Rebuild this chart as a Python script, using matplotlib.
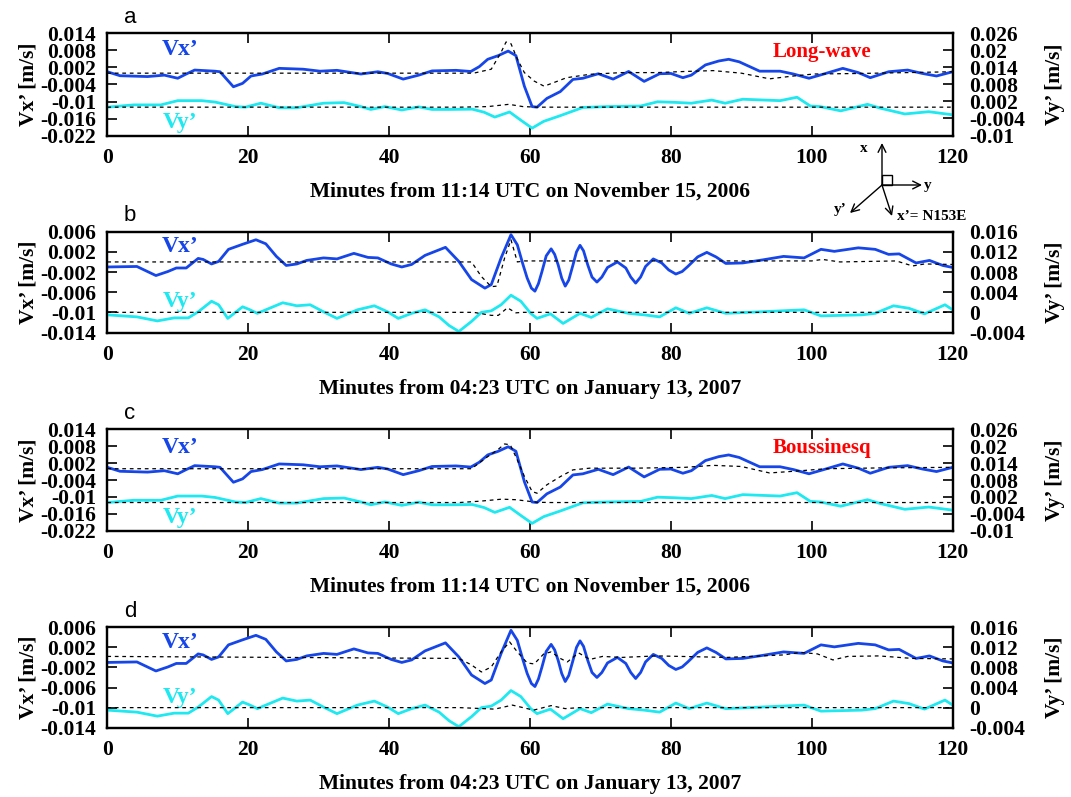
import numpy as np
import matplotlib
matplotlib.use("Agg")
import matplotlib.pyplot as plt
from matplotlib.patches import Rectangle, FancyArrowPatch

plt.rcParams['font.family'] = ['Liberation Serif', 'DejaVu Serif']
plt.rcParams['font.weight'] = 'bold'
plt.rcParams['axes.labelweight'] = 'bold'
plt.rcParams['axes.unicode_minus'] = False

BLUE = '#1646e8'
CYAN = '#1ee8f0'

# ---- observed, event 1 (Nov 15, 2006), values in 1e-3 m/s ----
t1x = [0, 1.8, 5.7, 8.1, 10, 11.2, 12.4, 15.3, 16, 17.9, 19.2, 20.4, 22, 24.4, 27.8, 30.2,
       32.6, 36, 38.4, 39.8, 42, 44.2, 46.1, 49.5, 51.6, 52.8, 54, 55.5, 56.9, 58, 59.2, 60.3,
       61, 62.4, 64.3, 66.1, 67.5, 69.7, 71.8, 74, 76.2, 78.4, 80, 81.7, 82.9, 84.9, 86.8,
       88.2, 89.7, 92.6, 95.5, 97.4, 99.6, 101.7, 104.4, 106.6, 108.3, 110.9, 113.6, 115.7,
       117.7, 120]
v1x = [0.5, -0.9, -1.2, -0.7, -1.8, -0.3, 1.1, 0.7, 0.5, -4.8, -3.6, -1.0, -0.3, 1.7, 1.4, 0.7,
       1.0, -0.3, 0.5, -0.1, -2.1, -0.7, 0.8, 1.0, 0.6, 2.3, 4.9, 6.2, 7.8, 6.2, -4.6, -11.8,
       -12.0, -8.9, -6.5, -2.2, -1.8, -0.2, -2.1, 0.6, -2.9, -0.2, -0.1, -1.6, -0.7, 2.9, 4.3,
       4.9, 4.0, 0.7, 0.7, -0.3, -1.8, -0.3, 1.7, 0.2, -1.6, 0.5, 1.1, -0.1,
       -1.0, 0.5]
t1y = [0, 3.75, 7.6, 10, 13.4, 15.3, 18.2, 19.6, 21.8, 24.4, 26.9, 30.7, 33.6, 36, 37.4, 39.4,
       41.8, 44.2, 46.1, 48.5, 51.8, 53.5, 55, 57.1, 58.7, 60.3, 61.95, 64.3, 67.5, 70.9, 75.7,
       78.1, 80.5, 82.9, 85.8, 87.7, 90.2, 95.5, 97.9, 99.8, 101.2, 104.1, 107.9, 109.8, 113.2,
       116.6, 120]
v1y = [0.0, 0.8, 0.8, 2.3, 2.3, 1.8, 0.2, 0.0, 1.4, -0.2, -0.2, 1.4, 1.6, 0.2, -0.8, 0.2,
       -1.0, 0.1, -0.8, -0.8, -0.7, -1.8, -3.5, -1.7, -4.6, -7.4, -5.0, -3.0, -0.1, 0.2, 0.4,
       1.9, 1.7, 1.4, 2.5, 1.4, 2.8, 2.3, 3.5, 0.4, 0.2, -1.3, 1.0, -0.4, -2.4,
       -1.6, -2.7]

# ---- observed, event 2 (Jan 13, 2007) ----
t2x = [0, 4.2, 5.7, 6.9, 8.6, 9.8, 11.2, 12.9, 13.6, 14.8, 15.8, 17.2, 19.2, 21.1, 22.5, 24,
       25.4, 26.9, 28.3, 30.7, 32.6, 35, 37, 38.4, 40.3, 41.8, 43.2, 45.1, 48, 49.9, 51.7, 53.6,
       54.5, 55.9, 57.3, 58.2, 59, 59.6, 60.2, 60.7, 61.2, 61.7, 62.3, 63, 63.5, 64, 64.5, 65,
       65.5, 66.1, 66.6, 67.1, 67.6, 68.2, 68.8, 69.5, 70.2, 71, 72.4, 73.6, 74.3, 75, 75.7,
       76.4, 77.5, 78.7, 79.7, 80.7, 81.6, 82.4, 83.8, 85.1, 86.4, 87.8, 90.2, 93, 96, 98.9,
       101.3, 103.2, 106.6, 109, 110.9, 112.4, 114.8, 116.7, 118.6, 120]
v2x = [-1.0, -0.9, -1.9, -2.7, -1.9, -1.2, -1.2, 0.7, 0.5, -0.4, 0.1, 2.5, 3.5, 4.4, 3.6, 1.1,
       -0.7, -0.4, 0.3, 0.8, 0.6, 1.7, 0.9, 0.8, -0.4, -1.0, -0.5, 1.3, 2.9, 0.1, -3.5, -5.2,
       -4.5, 0.8, 5.4, 3.4, -0.5, -3.2, -5.2, -5.8, -4.3, -1.9, 1.2, 2.6, 1.5, -0.6, -3.2, -4.8,
       -3.6, -0.6, 2.0, 3.3, 2.2, -0.6, -3.0, -4.0, -3.0, -1.1, 0.0, -1.2, -3.0, -4.2, -3.0,
       -0.9, 0.6, -0.2, -1.6, -2.4, -1.9, -0.9, 1.0, 1.9, 1.0, -0.3, -0.2, 0.4, 1.1, 0.8,
       2.5, 2.1, 2.8, 2.5, 1.5, 1.6, -0.2, 0.3, -0.7, -1.1]
t2y = [0, 4.2, 7.1, 9.5, 11.5, 12.9, 14.8, 15.8, 17.1, 19.2, 20.1, 21.3, 22.5, 24.9, 26.9, 28.8,
       30.7, 32.6, 35.5, 37.9, 39.8, 41.3, 43.2, 45.1, 47.1, 48.5, 49.9, 51.7, 53.1, 54.5, 55.9,
       57.3, 58.7, 60.1, 61, 62.9, 64.7, 67.1, 68.7, 71, 74, 76.2, 78.4, 80.7, 82.6, 85.1, 87.8,
       92.6, 98.9, 101.3, 107.1, 109, 111.6, 113.8, 116, 118.9, 120]
v2y = [-0.5, -0.9, -1.7, -1.1, -1.1, 0.1, 2.2, 1.5, -1.2, 1.1, 0.6, -0.2, 0.5, 1.9, 1.3, 1.5,
       0.1, -1.2, 0.5, 1.3, 0.1, -1.2, -0.2, 0.5, -0.9, -2.6, -3.8, -1.8, 0.0, 0.3, 1.5,
       3.4, 2.2, -0.2, -1.2, -0.3, -2.2, -0.2, -1.0, 0.7, -0.2, -0.5, -0.9, 0.9, -0.2, 0.9, -0.2,
       0.1, 0.5, -0.7, -0.5, -0.2, 1.3, 0.8, -0.3, 1.5, 0.5]

# ---- model results (dashed) ----
ta_x = [0, 52, 54.5, 55.9, 56.6, 57.3, 58.2, 59.2, 60.6, 62, 63.3, 65.2, 68.5, 73, 78, 82, 86,
        90, 94, 97.4, 100.3, 107, 120]
va_x = [0, 0, 1.4, 7.4, 11.0, 10.4, 5.0, 0.2, -2.8, -4.6, -3.4, -1.6, -0.4, 0.2, 0.2, 0.6, 0.9,
        0.0, -2.0, -1.0, -0.3, -0.1, 0.5]
ta_y = [0, 50, 54, 57, 59, 61, 120]
va_y = [0, 0, 0.2, 1.0, 0.2, 0, 0]

tb_x = [0, 50, 51.7, 53.1, 54.5, 55.3, 56.4, 57.3, 58.2, 59.2, 100, 101.5, 104, 112, 114.3, 116, 120]
vb_x = [0, 0, 0, -2.9, -4.9, -4.8, 0.8, 4.4, 0.0, 0.2, 0.2, 0.5, 0.0, 0.2, -0.8, -0.4, -0.5]
tb_y = [0, 52, 54.5, 55.5, 56.8, 58, 59, 120]
vb_y = [0, 0, -0.6, -0.6, 0.9, -0.1, 0, 0]

tc_x = [0, 51.7, 54, 55.4, 56.4, 57.2, 58.2, 59.2, 60.3, 61, 62.4, 64.3, 66.1, 68.5, 75, 82, 86,
        90, 94, 98, 102, 110, 120]
vc_x = [0, 0, 4.3, 6.7, 8.8, 8.5, 3.1, -2.7, -8.1, -8.7, -5.7, -2.8, -0.4, 0.2, 0.2, 0.5, 1.2,
        0.8, -1.5, -0.8, 0.0, 0.3, 0.5]
tc_y = [0, 50, 53, 56, 58, 61, 63, 120]
vc_y = [0, 0, 0.5, 1.2, 1.0, 0.1, 0, 0]

td_x = [0, 49.9, 51.7, 53.1, 54.5, 55.9, 57.1, 58.2, 59.6, 60.6, 61.95, 63, 64.3, 65.3, 66.9,
        68.5, 70.3, 73, 78, 88, 96, 98.4, 100.8, 103, 105.1, 109.5, 114.3, 120]
vd_x = [0.2, -0.2, -1.5, -2.9, -1.9, 1.1, 3.1, 1.1, -1.1, -1.3, 0.7, 1.1, -0.2, -0.9, 0.9,
        -0.4, 0.2, 0.0, 0.3, 0.0, 0.5, 1.0, 0.7, -0.5, 0.2, 0.3, -0.2, -0.3]
td_y = [0, 50, 55, 57.5, 60.5, 63, 65, 67, 120]
vd_y = [0, 0, -0.3, 0.5, -0.5, 0.4, -0.2, 0, 0]

# axis ticks
left1 = ['0.014', '0.008', '0.002', '-0.004', '-0.01', '-0.016', '-0.022']
right1 = ['0.026', '0.02', '0.014', '0.008', '0.002', '-0.004', '-0.01']
left2 = ['0.006', '0.002', '-0.002', '-0.006', '-0.01', '-0.014']
right2 = ['0.016', '0.012', '0.008', '0.004', '0', '-0.004']
xt = [0, 20, 40, 60, 80, 100, 120]

xlab1 = 'Minutes from 11:14 UTC on November 15, 2006'
xlab2 = 'Minutes from 04:23 UTC on January 13, 2007'

W, H = 1071, 797
fig = plt.figure(figsize=(W / 100, H / 100), dpi=100)

def fx(x, y):
    return (x / W, 1 - y / H)

panels = [
    # letter, top px, bottom px, obs, model, tick sets, xlabel, model name, label y fracs
    ('a', 33.5, 135.5, (t1x, v1x, t1y, v1y), (ta_x, va_x, ta_y, va_y), (left1, right1), xlab1, 'Long-wave', 0.84, 0.13),
    ('b', 231.7, 332.5, (t2x, v2x, t2y, v2y), (tb_x, vb_x, tb_y, vb_y), (left2, right2), xlab2, None, 0.85, 0.31),
    ('c', 429.3, 530.7, (t1x, v1x, t1y, v1y), (tc_x, vc_x, tc_y, vc_y), (left1, right1), xlab1, 'Boussinesq', 0.82, 0.135),
    ('d', 627.3, 727.7, (t2x, v2x, t2y, v2y), (td_x, vd_x, td_y, vd_y), (left2, right2), xlab2, None, 0.85, 0.30),
]

for letter, top, bot, obs, mod, ticks, xlab, name, yx, yy in panels:
    ax = fig.add_axes([107.3 / W, 1 - bot / H, 845.4 / W, (bot - top) / H])
    ax2 = ax.twinx()
    lt, rt = ticks
    lv = [float(s) for s in lt]
    rv = [float(s) for s in rt]
    ax.set_ylim(lv[-1], lv[0])
    ax2.set_ylim(rv[-1], rv[0])
    ax.set_yticks(lv)
    ax.set_yticklabels(lt)
    ax2.set_yticks(rv)
    ax2.set_yticklabels(rt)
    ax.set_xlim(0, 120)
    ax.set_xticks(xt)

    tx, vx, ty, vy = obs
    mtx, mvx, mty, mvy = mod
    ax.plot(tx, np.array(vx) * 1e-3, color=BLUE, lw=2.0, zorder=2)
    ax.plot(mtx, np.array(mvx) * 1e-3, color='black', lw=0.9, dashes=(3, 3), zorder=3)
    ax2.plot(ty, np.array(vy) * 1e-3, color=CYAN, lw=2.0, zorder=2)
    ax2.plot(mty, np.array(mvy) * 1e-3, color='black', lw=0.9, dashes=(3, 3), zorder=3)

    ax.tick_params(axis='x', direction='in', top=True, length=7, width=1.2,
                   labelsize=15.5, pad=9)
    ax.tick_params(axis='y', direction='in', length=7, width=1.2, labelsize=15.5, pad=8)
    ax2.tick_params(axis='y', direction='in', length=7, width=1.2, labelsize=15.5, pad=12)
    for a in (ax, ax2):
        for s in a.spines.values():
            s.set_linewidth(1.6)

    ax.set_xlabel(xlab, fontsize=15.5, fontweight='bold', labelpad=10)
    ax.set_ylabel('Vx\u2019 [m/s]', fontsize=15.5, fontweight='bold', labelpad=1)
    ax2.set_ylabel('Vy\u2019 [m/s]', fontsize=15.5, fontweight='bold', rotation=90, labelpad=14)

    ax.text(0.086, yx, 'Vx\u2019', color=BLUE, fontsize=17, transform=ax.transAxes,
            ha='center', va='center')
    ax.text(0.086, yy, 'Vy\u2019', color=CYAN, fontsize=17, transform=ax.transAxes,
            ha='center', va='center')
    if name:
        ax.text(0.845, 0.82, name, color='red', fontsize=15, transform=ax.transAxes,
                ha='center', va='center')
    fig.text(*fx(130, top - 16), letter, fontsize=16, family='Liberation Sans',
             weight='normal', ha='center', va='center')

# orientation sketch (x, y and rotated x', y' axes)
org = (882, 185)
tips = [(882, 143), (922, 185), (850, 213), (892, 216)]
for tip in tips:
    fig.add_artist(FancyArrowPatch(
        fx(*org), fx(*tip), transform=fig.transFigure, arrowstyle='->',
        mutation_scale=14, lw=1.0, color='black', shrinkA=0, shrinkB=0))
sx, sy = fx(882, 185)
fig.add_artist(Rectangle((sx, sy), 10 / W, 10 / H, transform=fig.transFigure,
                         fill=False, lw=1.0, color='black'))
fig.text(*fx(864, 148), 'x', fontsize=11, ha='center', va='center')
fig.text(*fx(928, 186), 'y', fontsize=11, ha='center', va='center')
fig.text(*fx(840, 209), 'y\u2019', fontsize=11, ha='center', va='center')
fig.text(*fx(897, 216), 'x\u2019= N153E', fontsize=11, ha='left', va='center')

fig.savefig('out.png', dpi=100)
